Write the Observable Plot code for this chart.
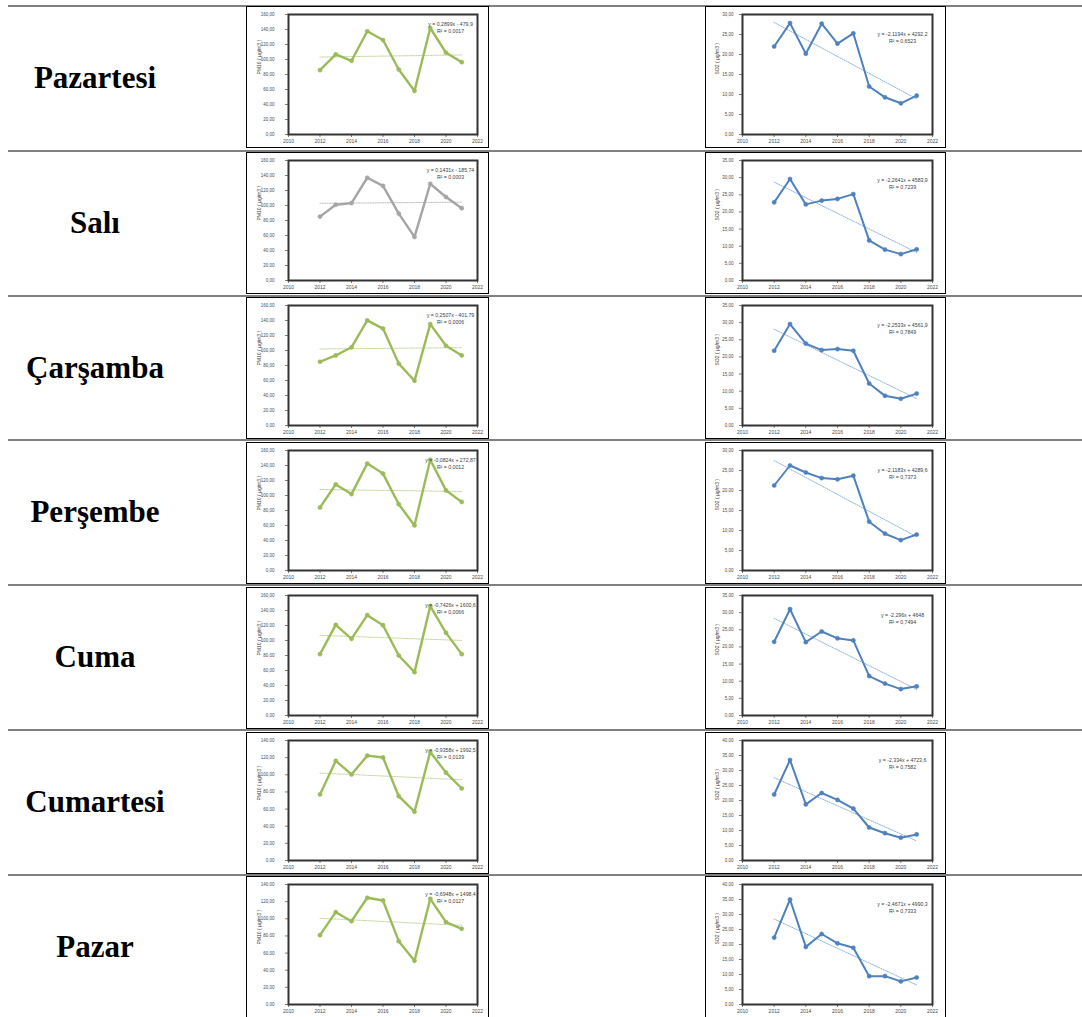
<!DOCTYPE html>
<html><head><meta charset="utf-8">
<script src="https://cdn.jsdelivr.net/npm/d3@7"></script>
<script src="https://cdn.jsdelivr.net/npm/@observablehq/plot@0.6"></script>
<style>
body{margin:0;background:#fff;}
#root{position:relative;width:1082px;height:1017px;overflow:hidden;background:#fff;}
.hline{position:absolute;left:8px;right:0;height:2px;background:#808080;}
.label{position:absolute;left:0;width:190px;text-align:center;font-family:"Liberation Serif","Times New Roman",serif;font-weight:bold;font-size:31px;color:#000;}
.box{position:absolute;background:#fff;}
.box svg{position:absolute;left:0;top:0;}
.border{position:absolute;left:0;top:0;right:0;bottom:0;border:1.5px solid #000;box-sizing:border-box;}
</style></head>
<body><div id="root"></div>
<script>
const days = ["Pazartesi","Salı","Çarşamba","Perşembe","Cuma","Cumartesi","Pazar"];
const years = [2012,2013,2014,2015,2016,2017,2018,2019,2020,2021];
const xTicks = [2010,2012,2014,2016,2018,2020,2022];

const pm10Pazartesi = [85.8,106.8,98.3,137.7,126.0,86.7,58.1,142.0,109.0,96.5];
const pm10Sali      = [85.2,101.0,103.2,137.0,126.2,89.2,58.1,128.9,111.3,96.4];
const pm10Carsamba  = [85.0,93.4,104.3,140.1,129.2,82.5,59.6,135.2,106.3,93.4];
const pm10Persembe  = [84.0,114.8,101.9,142.6,129.2,88.4,60.1,147.6,106.8,91.4];
const pm10Cuma      = [81.8,120.9,102.2,133.8,120.4,80.0,57.8,145.8,110.2,81.8];
const pm10Cumartesi = [77.1,116.3,100.4,122.3,120.2,75.0,56.9,126.7,102.5,84.0];
const pm10Pazar     = [80.9,107.7,97.2,124.5,121.4,73.9,51.0,123.3,96.1,88.3];

const so2Pazartesi = [22.0,27.85,20.2,27.7,22.7,25.3,12.0,9.3,7.8,9.7];
const so2Sali      = [22.8,29.6,22.2,23.3,23.8,25.2,11.7,9.0,7.7,9.1];
const so2Carsamba  = [21.8,29.6,23.9,22.0,22.3,21.8,12.25,8.65,7.8,9.3];
const so2Persembe  = [21.25,26.25,24.5,23.1,22.8,23.7,12.2,9.2,7.6,9.0];
const so2Cuma      = [21.5,31.0,21.4,24.5,22.5,21.9,11.5,9.3,7.7,8.5];
const so2Cumartesi = [22.0,33.5,18.7,22.5,20.2,17.3,11.0,9.1,7.6,8.7];
const so2Pazar     = [22.3,35.0,19.2,23.5,20.4,18.9,9.45,9.45,7.7,9.0];

const pm10Max = [160,160,160,160,160,140,140];
const so2Max  = [30,35,35,30,35,40,40];

const pm10Eq = [
  "y = 0,2899x - 479,9\nR² = 0,0017",
  "y = 0,1431x - 185,74\nR² = 0,0003",
  "y = 0,2507x - 401,79\nR² = 0,0006",
  "y = -0,0824x + 272,87\nR² = 0,0012",
  "y = -0,7426x + 1600,6\nR² = 0,0066",
  "y = -0,9358x + 1992,5\nR² = 0,0139",
  "y = -0,6948x + 1498,4\nR² = 0,0127"
];
const so2Eq = [
  "y = -2,1194x + 4292,2\nR² = 0,6523",
  "y = -2,2641x + 4583,9\nR² = 0,7239",
  "y = -2,2533x + 4561,9\nR² = 0,7849",
  "y = -2,1183x + 4289,6\nR² = 0,7373",
  "y = -2,296x + 4648\nR² = 0,7494",
  "y = -2,334x + 4723,6\nR² = 0,7582",
  "y = -2,4671x + 4990,3\nR² = 0,7333"
];

const pm10Series = [pm10Pazartesi,pm10Sali,pm10Carsamba,pm10Persembe,pm10Cuma,pm10Cumartesi,pm10Pazar];
const so2Series = [so2Pazartesi,so2Sali,so2Carsamba,so2Persembe,so2Cuma,so2Cumartesi,so2Pazar];

const root = document.getElementById("root");
const pitch = 144.8, top0 = 6;
const fmt = d => d.toFixed(2).replace(".", ",");

function chart(o){
  const data = years.map((yr,i)=>({year:yr, v:o.values[i]}));
  return Plot.plot({
    width:o.w, height:o.h, marginLeft:o.ml, marginRight:o.mr, marginTop:o.mt, marginBottom:o.mb,
    style:{fontFamily:"Liberation Sans, Arial, sans-serif", fontSize:"5px", color:"#595959", background:"transparent", overflow:"visible"},
    x:{domain:[2010,2022]},
    y:{domain:[0,o.ymax]},
    marks:[
      Plot.axisX({ticks:xTicks, tickFormat:d=>String(d), tickSize:3, tickPadding:1.5, label:null, fontSize:5, stroke:"#7f7f7f", fill:"#4d4d4d"}),
      Plot.axisY({ticks:d3.range(0,o.ymax+0.001,o.step), tickFormat:fmt, tickSize:3, tickPadding:o.pad, label:null, fontSize:4.5, stroke:"#7f7f7f", fill:"#4d4d4d"}),
      Plot.linearRegressionY(data,{x:"year", y:"v", stroke:o.trend, strokeWidth:1, strokeDasharray:"1.2,1.2", ci:0}),
      Plot.line(data,{x:"year", y:"v", stroke:o.color, strokeWidth:o.lw}),
      Plot.dot(data,{x:"year", y:"v", r:2.1, fill:o.color, stroke:o.color, strokeWidth:0.5}),
      Plot.frame({stroke:"#333333", strokeWidth:2}),
      Plot.text([o.eq],{frameAnchor:"top-right", text:d=>d, dx:o.eqDx, dy:o.eqDy, textAnchor:"middle", lineAnchor:"top", lineHeight:1.4, fontSize:5.2, fill:"#404040"}),
      Plot.text([o.ylabel],{frameAnchor:"left", text:d=>d, dx:o.ylDx, rotate:-90, fontSize:5, fill:"#404040"})
    ]
  });
}

for (let i=0;i<8;i++){
  const l = document.createElement("div");
  l.className="hline"; l.style.top=(top0+pitch*i-1)+"px";
  root.appendChild(l);
}

days.forEach((day,i)=>{
  const T = top0 + pitch*i;
  const lab = document.createElement("div");
  lab.className="label"; lab.textContent=day;
  lab.style.top=T+"px"; lab.style.height=pitch+"px"; lab.style.lineHeight=pitch+"px";
  root.appendChild(lab);

  const bh = 142;
  const bt = i===0 ? T : T+1.5;
  const b1 = document.createElement("div");
  b1.className="box"; b1.style.left="246px"; b1.style.top=bt+"px"; b1.style.width="243px"; b1.style.height=bh+"px";
  b1.appendChild(chart({
    values:pm10Series[i], w:243, h:bh, ml:42, mr:12, mt:8, mb:14,
    ymax:pm10Max[i], step:20, pad:11,
    color: i===1 ? "#A5A5A5" : "#9BBB59", trend: i===1 ? "#BFBFBF" : "#C3D69B", lw:2.4,
    eq:pm10Eq[i], eqDx:-27, eqDy:6, ylabel:"PM10 ( µg/m3 )", ylDx:-29.5
  }));
  const br1=document.createElement("div"); br1.className="border"; b1.appendChild(br1);
  root.appendChild(b1);

  const b2 = document.createElement("div");
  b2.className="box"; b2.style.left="705px"; b2.style.top=bt+"px"; b2.style.width="241px"; b2.style.height=bh+"px";
  b2.appendChild(chart({
    values:so2Series[i], w:241, h:bh, ml:37, mr:14, mt:8, mb:14,
    ymax:so2Max[i], step:5, pad:6,
    color:"#4F81BD", trend:"#8EB4E3", lw:2,
    eq:so2Eq[i], eqDx:-30, eqDy:16, ylabel:"SO2 ( µg/m3 )", ylDx:-25
  }));
  const br2=document.createElement("div"); br2.className="border"; b2.appendChild(br2);
  root.appendChild(b2);
});
</script>
</body></html>
